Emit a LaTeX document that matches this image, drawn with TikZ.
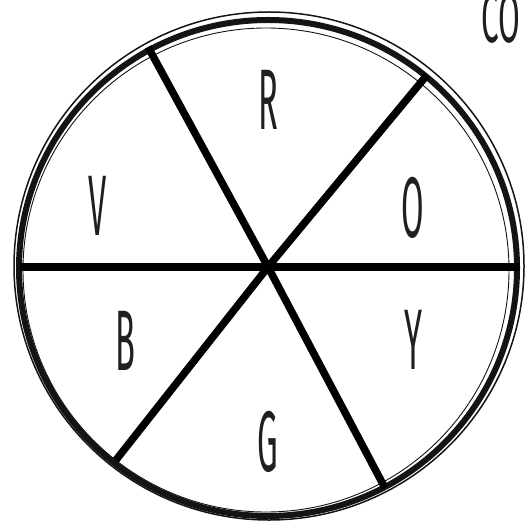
\documentclass[tikz,border=0pt]{standalone}
\usepackage{fontspec}
\setmainfont{Fira Sans}
\begin{document}
\begin{tikzpicture}[x=1pt,y=-1pt,
  letter/.style={font=\fontsize{86}{86}\selectfont, inner sep=0pt, text=black!88},
  spoke/.style={line width=7.5pt, black},
  ring/.style={draw=black!92}]
\useasboundingbox (0,0) rectangle (529,529);
\coordinate (c) at (268,267);
% rings (hand-drawn look)
\draw[ring, line width=6pt] (268,268) ellipse [x radius=249, y radius=248];
\draw[ring, line width=1.5pt] (269,266) ellipse [x radius=255, y radius=254];
\draw[ring, line width=0.9pt] (266,270) ellipse [x radius=243, y radius=242];
% spokes
\coordinate (p1) at (148,47);
\coordinate (p2) at (385,488);
\coordinate (p3) at (427,75);
\coordinate (p4) at (116,460);
\coordinate (h1) at (20,267);
\coordinate (h2) at (520,267);
\draw[spoke] (h1) -- (c) -- (h2);
\draw[spoke] (p1) -- (c) -- (p2);
\draw[spoke] (p3) -- (c) -- (p4);
% letters
\node[letter] (R) at (268,100) {\scalebox{0.38}[1]{R}};
\node[letter] (O) at (413,208) {\scalebox{0.38}[1]{O}};
\node[letter] (V) at (98,206) {\scalebox{0.38}[1]{V}};
\node[letter] (B) at (125,341) {\scalebox{0.38}[1]{B}};
\node[letter] (Y) at (413,340) {\scalebox{0.38}[1]{Y}};
\node[letter] (G) at (268,442) {\scalebox{0.38}[1]{G}};
\begin{scope}
\clip (0,0) rectangle (529,529);
\node[letter, font=\fontsize{70}{70}\selectfont, anchor=base west] (CO) at (481,43) {\scalebox{0.45}[1]{CO}};
\end{scope}
\end{tikzpicture}
\end{document}
